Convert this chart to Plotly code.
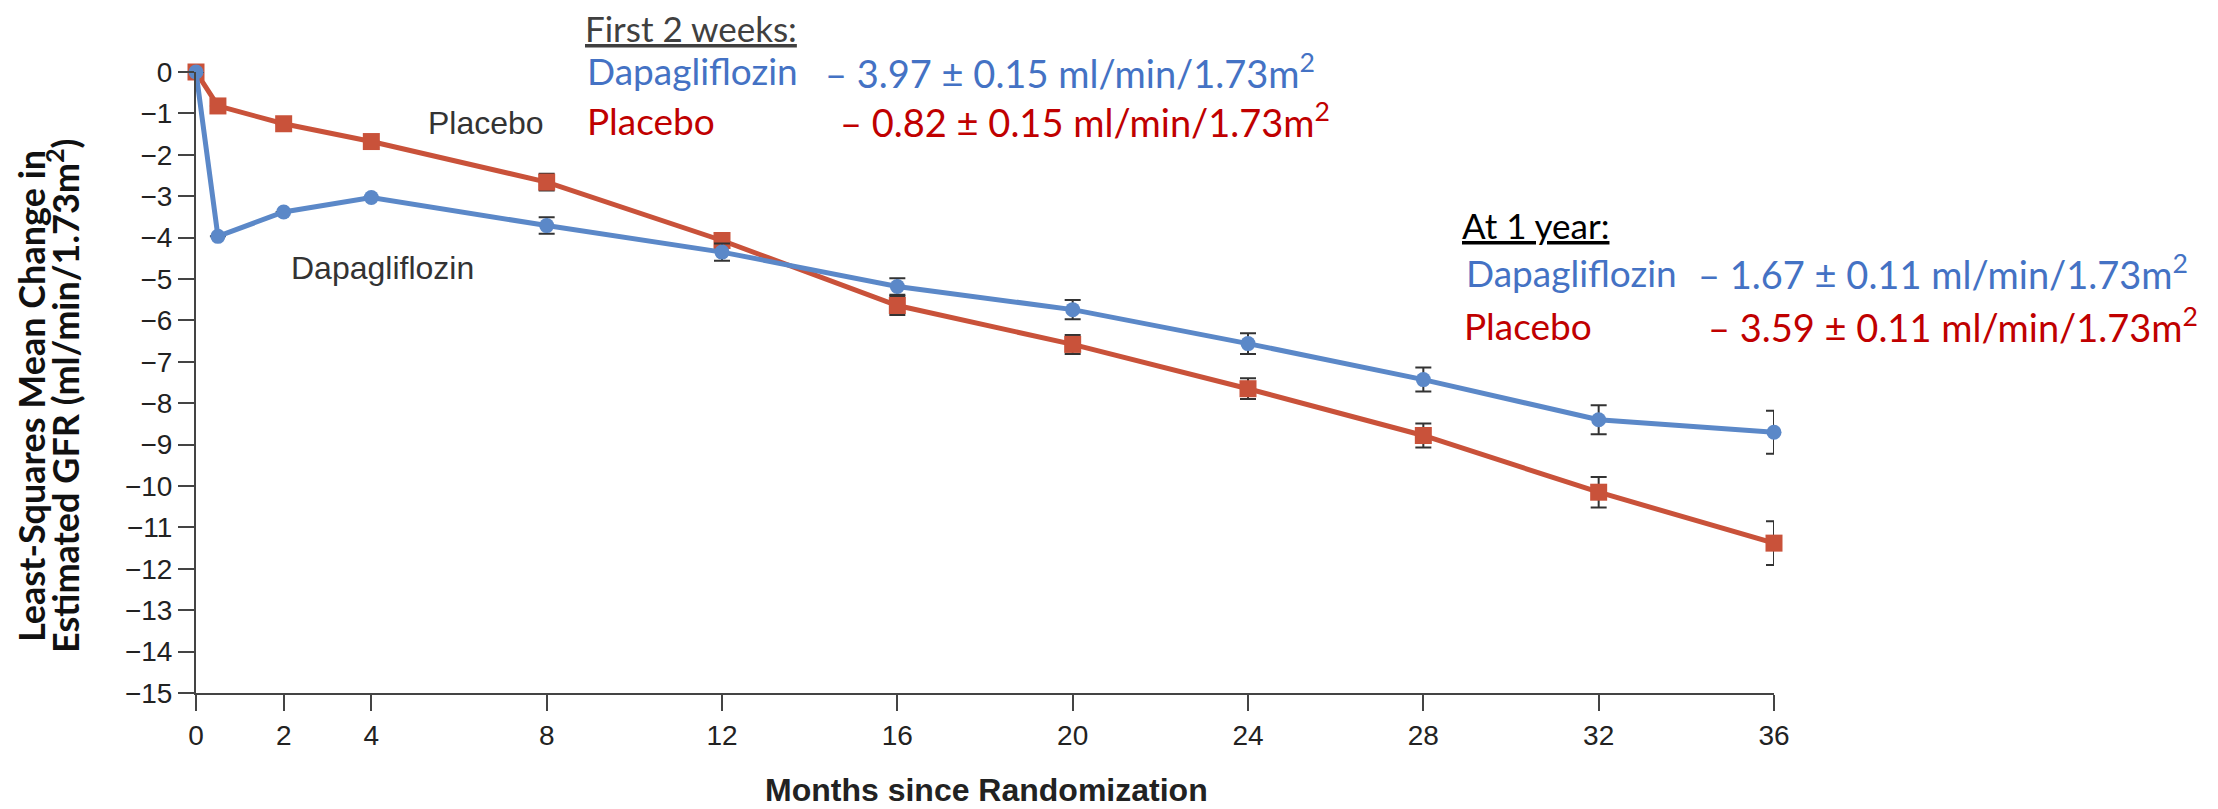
import plotly.graph_objects as go

# ---- data ----
months = [0, 0.5, 2, 4, 8, 12, 16, 20, 24, 28, 32, 36]
tick_months = [0, 2, 4, 8, 12, 16, 20, 24, 28, 32, 36]
y_ticks = list(range(-15, 1))

dapa = [0, -3.97, -3.38, -3.03, -3.71, -4.35, -5.18, -5.74, -6.56, -7.43, -8.40, -8.70]
dapa_err = [0, 0, 0, 0, 0.20, 0.21, 0.20, 0.23, 0.25, 0.29, 0.35, 0.52]
placebo = [0, -0.82, -1.25, -1.68, -2.66, -4.07, -5.64, -6.58, -7.65, -8.78, -10.15, -11.38]
placebo_err = [0, 0, 0, 0, 0.20, 0.18, 0.23, 0.23, 0.25, 0.29, 0.37, 0.53]

BLUE = "#5B88C8"
RED = "#C9523A"
TXT_BLUE = "#4472C4"
TXT_RED = "#C00000"
AXIS = "#444444"

W, H = 2218, 809
ML, MR, MT, MB = 188, 452, 64, 124
PW = W - ML - MR
PH = H - MT - MB


def px_x(px):
    return (px - ML) / PW


def px_y(py):
    return (H - MB - py) / PH


fig = go.Figure()
err_style = dict(type="data", color="#333333", thickness=2, width=8, visible=True)
fig.add_trace(go.Scatter(
    x=months, y=placebo, name="Placebo", mode="lines+markers",
    line=dict(color=RED, width=5),
    marker=dict(symbol="square", size=17, color=RED),
    error_y=dict(array=placebo_err, **err_style),
    cliponaxis=False,
))
fig.add_trace(go.Scatter(
    x=months, y=dapa, name="Dapagliflozin", mode="lines+markers",
    line=dict(color=BLUE, width=5),
    marker=dict(symbol="circle", size=15, color=BLUE),
    error_y=dict(array=dapa_err, **err_style),
    cliponaxis=False,
))

tickfont = dict(family="Liberation Sans, Arial, sans-serif", size=28, color="#222222")
fig.update_xaxes(
    range=[0, 36], tickmode="array", tickvals=tick_months,
    ticks="outside", ticklen=16, tickwidth=2, tickcolor=AXIS,
    showline=True, linecolor=AXIS, linewidth=2,
    showgrid=False, zeroline=False, tickfont=tickfont,
)
fig.update_yaxes(
    range=[-15, 0], tickmode="array", tickvals=y_ticks,
    ticks="outside", ticklen=16, tickwidth=2, tickcolor=AXIS,
    showline=True, linecolor=AXIS, linewidth=2,
    showgrid=False, zeroline=False, tickfont=tickfont,
)

ann = []
# axis titles (two separate lines for tight line spacing)
ytitle_font = dict(family="Lato, sans-serif", size=36, color="#111111")
ann.append(dict(
    text="<b>Least-Squares Mean Change in</b>",
    x=px_x(23), y=px_y(388), xref="paper", yref="paper", textangle=-90,
    showarrow=False, xanchor="center", yanchor="middle", font=ytitle_font,
))
ann.append(dict(
    text="<b>Estimated GFR (ml/min/1.73m<sup>2</sup>)</b>",
    x=px_x(55), y=px_y(388), xref="paper", yref="paper", textangle=-90,
    showarrow=False, xanchor="center", yanchor="middle", font=ytitle_font,
))
ann.append(dict(
    text="<b>Months since Randomization</b>",
    x=px_x(978), y=px_y(782), xref="paper", yref="paper",
    showarrow=False, xanchor="center", yanchor="middle",
    font=dict(family="Liberation Sans, Arial, sans-serif", size=32, color="#222222"),
))
# in-chart labels
lab_font = dict(family="Liberation Sans, Arial, sans-serif", size=32, color="#333333")
ann.append(dict(text="Placebo", x=px_x(478), y=px_y(115), xref="paper", yref="paper",
                showarrow=False, xanchor="center", yanchor="middle", font=lab_font))
ann.append(dict(text="Dapagliflozin", x=px_x(374), y=px_y(260), xref="paper", yref="paper",
                showarrow=False, xanchor="center", yanchor="middle", font=lab_font))


# summary text blocks
def txt(text, px, py, color, size):
    ann.append(dict(text=text, x=px_x(px), y=px_y(py), xref="paper", yref="paper",
                    showarrow=False, xanchor="left", yanchor="middle",
                    font=dict(family="Lato, sans-serif", size=size, color=color)))


HEAD, NAME, VAL = 35, 37, 38
txt("<u>First 2 weeks:</u>", 575, 20, "#404040", HEAD)
txt("Dapagliflozin", 577, 63, TXT_BLUE, NAME)
txt("– 3.97 ± 0.15 ml/min/1.73m<sup>2</sup>", 815, 63, TXT_BLUE, VAL)
txt("Placebo", 577, 112, TXT_RED, NAME)
txt("– 0.82 ± 0.15 ml/min/1.73m<sup>2</sup>", 830, 112, TXT_RED, VAL)

txt("<u>At 1 year:</u>", 1452, 217, "#000000", HEAD)
txt("Dapagliflozin", 1456, 264, TXT_BLUE, NAME)
txt("– 1.67 ± 0.11 ml/min/1.73m<sup>2</sup>", 1688, 264, TXT_BLUE, VAL)
txt("Placebo", 1454, 317, TXT_RED, NAME)
txt("– 3.59 ± 0.11 ml/min/1.73m<sup>2</sup>", 1698, 317, TXT_RED, VAL)

fig.update_layout(
    width=W, height=H,
    margin=dict(l=ML, r=MR, t=MT, b=MB, autoexpand=False),
    paper_bgcolor="white", plot_bgcolor="white",
    showlegend=False, annotations=ann,
)

fig.write_html("out.html")
